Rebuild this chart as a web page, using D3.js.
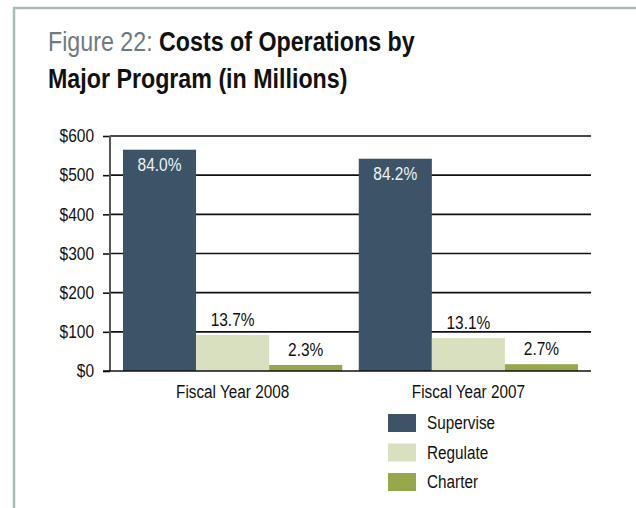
<!DOCTYPE html>
<html><head><meta charset="utf-8">
<script src="https://cdn.jsdelivr.net/npm/d3@7"></script>
<style>body{margin:0;background:#fff} svg{display:block}</style>
</head><body><svg id="c" width="636" height="508"></svg>
<script>
// ---- data ----
const groups = ["Fiscal Year 2008", "Fiscal Year 2007"];
const programs = ["Supervise", "Regulate", "Charter"];
const supervise = [565, 542];
const regulate = [92, 84];
const charter = [15.5, 17.4];
const pctSupervise = ["84.0%", "84.2%"];
const pctRegulate = ["13.7%", "13.1%"];
const pctCharter = ["2.3%", "2.7%"];
const yTicks = [0, 100, 200, 300, 400, 500, 600];
const colors = ["#3d5468", "#d9e0bf", "#97a84a"];

const series = [supervise, regulate, charter];
const pcts = [pctSupervise, pctRegulate, pctCharter];
const rows = [];
groups.forEach((g, gi) => programs.forEach((p, pi) =>
  rows.push({group: g, program: p, value: series[pi][gi], pct: pcts[pi][gi], pi})));

const FONT = "'Liberation Sans',Arial,Helvetica,sans-serif";
const svg = d3.select("#c");

function condense(sel, k) {
  sel.each(function () {
    const w = this.getComputedTextLength();
    this.setAttribute("textLength", w * k);
    this.setAttribute("lengthAdjust", "spacingAndGlyphs");
  });
}

// frame
svg.append("path").attr("d", "M14,508 V8 H636")
  .attr("fill", "none").attr("stroke", "#a9bbb3").attr("stroke-width", 2.5);

// title (condensed via horizontal scale)
const tg = svg.append("g").attr("transform", "translate(48,0) scale(0.83,1)");
const t1 = tg.append("text").attr("x", 0).attr("y", 51)
  .attr("font-family", FONT).attr("font-size", 28);
t1.append("tspan").attr("fill", "#6f7b83").text("Figure 22: ");
t1.append("tspan").attr("fill", "#111").attr("font-weight", "bold").text("Costs of Operations by");
tg.append("text").attr("x", 0).attr("y", 88)
  .attr("font-family", FONT).attr("font-size", 28).attr("font-weight", "bold")
  .attr("fill", "#111").text("Major Program (in Millions)");

// scales
const x0 = d3.scaleBand().domain(groups).range([110, 591]).paddingInner(0.07).paddingOuter(0.055);
const x1 = d3.scaleBand().domain(programs).range([0, x0.bandwidth()]);
const y = d3.scaleLinear().domain([0, 600]).range([371, 136]);

// gridlines
svg.append("g").selectAll("line").data(yTicks.filter(d => d > 0)).join("line")
  .attr("x1", 110).attr("x2", 591)
  .attr("y1", d => y(d)).attr("y2", d => y(d))
  .attr("stroke", d => d === 600 ? "#4a4a4a" : "#111")
  .attr("stroke-width", d => d === 600 ? 2 : 1.6);

// y axis
const yAxis = d3.axisLeft(y).tickValues(yTicks).tickFormat(d => "$" + d).tickSize(7).tickPadding(9);
const ga = svg.append("g").attr("transform", "translate(110,0)").call(yAxis);
ga.select(".domain").remove();
ga.selectAll(".tick line").attr("stroke", "#111").attr("stroke-width", 1.6);
ga.selectAll(".tick text").attr("font-family", FONT).attr("font-size", 18).attr("fill", "#111");
condense(ga.selectAll(".tick text"), 0.86);
svg.append("line").attr("x1", 110).attr("x2", 110).attr("y1", y(600)).attr("y2", y(0))
  .attr("stroke", "#555").attr("stroke-width", 2);

// bars
svg.append("g").selectAll("rect").data(rows).join("rect")
  .attr("x", d => x0(d.group) + x1(d.program))
  .attr("width", x1.bandwidth())
  .attr("y", d => y(d.value))
  .attr("height", d => y(0) - y(d.value))
  .attr("fill", d => colors[d.pi]);

// baseline
svg.append("line").attr("x1", 103).attr("x2", 591).attr("y1", y(0)).attr("y2", y(0))
  .attr("stroke", "#111").attr("stroke-width", 1.6);

// value labels
const vl = svg.append("g").selectAll("text").data(rows).join("text")
  .attr("x", d => x0(d.group) + x1(d.program) + x1.bandwidth() / 2)
  .attr("y", d => d.pi === 0 ? y(d.value) + 21 : y(d.value) - 9)
  .attr("text-anchor", "middle")
  .attr("font-family", FONT).attr("font-size", 18)
  .attr("fill", d => d.pi === 0 ? "#eef2f3" : "#111")
  .text(d => d.pct);
condense(vl, 0.86);

// x axis labels
const xAxis = d3.axisBottom(x0).tickSize(0).tickPadding(14);
const gx = svg.append("g").attr("transform", `translate(0,${y(0)})`).call(xAxis);
gx.select(".domain").remove();
gx.selectAll(".tick text").attr("font-family", FONT).attr("font-size", 18).attr("fill", "#111");
condense(gx.selectAll(".tick text"), 0.85);

// legend
const lg = svg.append("g").attr("transform", "translate(388,414)");
const li = lg.selectAll("g").data(programs).join("g")
  .attr("transform", (d, i) => `translate(0,${i * 29.5})`);
li.append("rect").attr("width", 28).attr("height", 18).attr("fill", (d, i) => colors[i]);
const lt = li.append("text").attr("x", 39).attr("y", 15)
  .attr("font-family", FONT).attr("font-size", 18).attr("fill", "#111").text(d => d);
condense(lt, 0.85);
</script>
</body></html>
